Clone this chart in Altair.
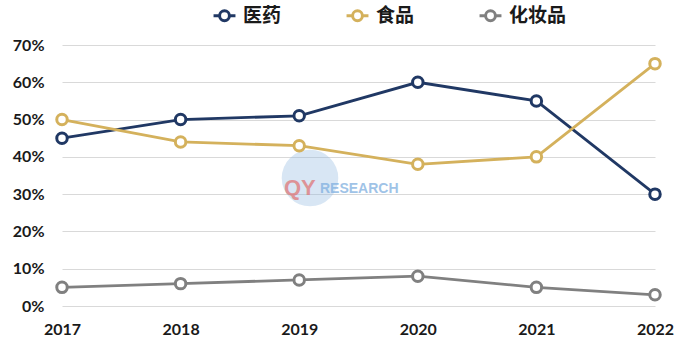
import altair as alt
import pandas as pd

years = ["2017", "2018", "2019", "2020", "2021", "2022"]
series_names = ["医药", "食品", "化妆品"]
yiyao = [0.45, 0.50, 0.51, 0.60, 0.55, 0.30]
shipin = [0.50, 0.44, 0.43, 0.38, 0.40, 0.65]
huazhuang = [0.05, 0.06, 0.07, 0.08, 0.05, 0.03]
colors = ["#203864", "#D4B15C", "#808080"]

rows = []
for name, vals in zip(series_names, [yiyao, shipin, huazhuang]):
    for y, v in zip(years, vals):
        rows.append({"year": y, "series": name, "value": v})
df = pd.DataFrame(rows)

FONT = "Lato"

x = alt.X("year:N", sort=years, title=None,
          scale=alt.Scale(type="point", padding=0),
          axis=alt.Axis(labelAngle=0, labelFont=FONT, labelFontSize=16, labelFontWeight="bold",
                        labelColor="#1a1a1a", ticks=False, domain=False, labelPadding=15, grid=False))
y = alt.Y("value:Q", title=None,
          scale=alt.Scale(domain=[0, 0.7], nice=False),
          axis=alt.Axis(values=[0, 0.1, 0.2, 0.3, 0.4, 0.5, 0.6, 0.7], format=".0%",
                        labelFont=FONT, labelFontSize=16, labelFontWeight="bold",
                        labelColor="#1a1a1a", ticks=False, domain=False, labelPadding=18,
                        grid=True, gridColor="#D9D9D9", gridWidth=1))

color = alt.Color("series:N", sort=series_names, title=None,
                  scale=alt.Scale(domain=series_names, range=colors),
                  legend=alt.Legend(orient="none", legendX=150, legendY=-42, direction="horizontal",
                                    labelFont="Noto Sans CJK SC", labelFontSize=19, labelFontWeight="bold",
                                    labelColor="#1a1a1a", columnPadding=58, symbolSize=480,
                                    symbolType="M-1,0H-0.45M0.45,0H1M0.45,0A0.45,0.45 0 1,1 -0.45,0A0.45,0.45 0 1,1 0.45,0Z",
                                    symbolStrokeWidth=3, symbolFillColor="white", labelOffset=6))

base = alt.Chart(df)
lines = base.mark_line(strokeWidth=2.8).encode(x=x, y=y, color=color, detail="series:N")
points = base.mark_point(filled=True, fill="white", size=110, strokeWidth=3, opacity=1).encode(
    x=x, y=y, stroke=alt.Stroke("series:N", sort=series_names,
                                scale=alt.Scale(domain=series_names, range=colors), legend=None))

wm_df = pd.DataFrame({"x": ["2019"], "v": [0.33]})
globe = alt.Chart(wm_df).mark_circle(size=3200, color="#8FB8E0", opacity=0.35).encode(
    x=alt.value(248), y=alt.value(133))
wm_text1 = alt.Chart(wm_df).mark_text(text="QY", font="Liberation Sans", fontSize=22, fontWeight="bold",
                                      color="#E07070", opacity=0.7, align="left").encode(
    x=alt.value(222), y=alt.value(143))
wm_text2 = alt.Chart(wm_df).mark_text(text="RESEARCH", font="Liberation Sans", fontSize=14, fontWeight="bold",
                                      color="#7FB0E0", opacity=0.75, align="left").encode(
    x=alt.value(258), y=alt.value(144))

chart = alt.layer(globe, wm_text1, wm_text2, lines, points).properties(
    width=593, height=261,
    autosize=alt.AutoSizeParams(type="none"),
    padding={"left": 62, "top": 45, "right": 35, "bottom": 49},
    background="white",
).configure_view(stroke=None)

chart.save("out.html", embed_options={"renderer": "svg", "actions": False})
